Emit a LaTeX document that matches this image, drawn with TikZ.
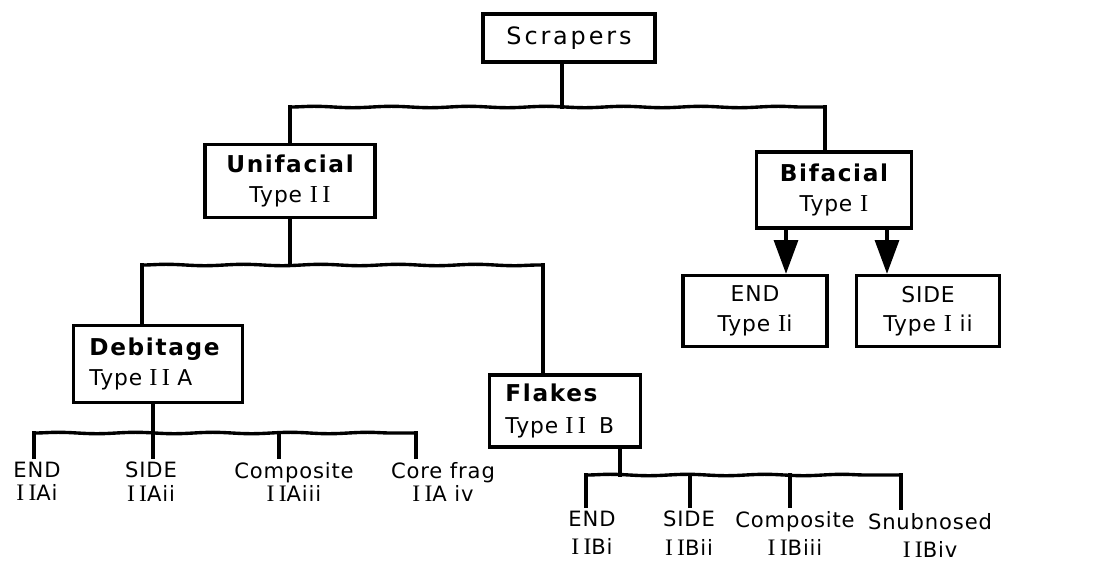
\documentclass[tikz,border=0pt]{standalone}
\usepackage{fontspec}
\setmainfont{DejaVu Sans}[LetterSpace=4, BoldFeatures={LetterSpace=7}]
\newfontfamily\romfont{Liberation Serif}[Scale=1.12, LetterSpace=18]
\newcommand\rmn[1]{{\romfont #1}}
\newcommand\hdtext[1]{{\fontsize{16.5}{21}\selectfont\bfseries #1}}
\usetikzlibrary{arrows.meta,decorations.pathmorphing}
\begin{document}
\begin{tikzpicture}[x=0.025cm,y=-0.025cm,
  box/.style={draw, line width=2.4pt, inner sep=0pt, align=center,
    font=\fontsize{15.5}{21}\selectfont},
  wh/.style 2 args={minimum width=#1*0.025cm, minimum height=#2*0.025cm},
  wire/.style={line width=2.4pt, line cap=rect},
  wavy/.style={wire, decorate, decoration={snake, amplitude=0.5pt, segment length=55pt}},
  tick/.style={wire, shorten >=5*0.025cm},
  arr/.style={line width=2.4pt, -{Triangle[length=24pt,width=17pt]}},
  lblA/.style={anchor=north, inner sep=0pt, align=center, font=\fontsize{15}{16.5}\selectfont},
  lblB/.style={anchor=north, inner sep=0pt, align=center, font=\fontsize{15}{20}\selectfont},
]
\useasboundingbox (0,0) rectangle (1120,562);

% boxes
\node[box, wh={172}{48}, font=\fontsize{17}{20}\selectfont\addfontfeature{LetterSpace=12}] (scr) at (569,38) {Scrapers};
\node[box, wh={170}{73}] (uni) at (290,181) {\hdtext{Unifacial}\\ Type \rmn{II}};
\node[box, wh={155}{76}] (bif) at (834,190) {\hdtext{Bifacial}\\ Type \rmn{I}};
\node[box, wh={144}{71}] (endI) at (755,311) {END\\ Type \rmn{I}i};
\node[box, wh={143}{71}] (sideI) at (928,311) {SIDE\\ Type \rmn{I} ii};
\node[box, minimum height=77*0.025cm, inner xsep=16*0.025cm, text width=3.425cm, align=left] (deb) at (158,364) {\hdtext{Debitage}\\ Type \rmn{II} A};
\node[box, minimum height=72*0.025cm, inner xsep=16*0.025cm, text width=2.975cm, align=left,
  font=\fontsize{15.5}{23}\selectfont] (flk) at (565,411) {\hdtext{Flakes}\\ Type \rmn{II}\hspace{0.6em}B};

% coordinates of the bars
\coordinate (s1) at (562,107);
\coordinate (b1L) at (290,107);
\coordinate (b1R) at (825,107);
\coordinate (b2L) at (142,265);
\coordinate (b2M) at (290,265);
\coordinate (b2R) at (543,265);
\coordinate (aL) at (786,0);
\coordinate (aR) at (887,0);

% first level
\draw[wire] (s1 |- scr.south) -- (s1);
\draw[wavy] (b1L) -- (b1R);
\draw[wire] (b1L) -- (b1L |- uni.north);
\draw[wire] (b1R) -- (b1R |- bif.north);

% bifacial arrows
\draw[arr] (aL |- bif.south) -- (aL |- endI.north);
\draw[arr] (aR |- bif.south) -- (aR |- sideI.north);

% second level
\draw[wire] (b2M |- uni.south) -- (b2M);
\draw[wavy] (b2L) -- (b2R);
\draw[wire] (b2L) -- (b2L |- deb.north);
\draw[wire] (b2R) -- (b2R |- flk.north);

% debitage children
\coordinate (d0) at (153,433);
\coordinate (d1) at (34,433);
\coordinate (d2) at (153,433);
\coordinate (d3) at (279,433);
\coordinate (d4) at (416,433);
\draw[wire] (d0 |- deb.south) -- (d0);
\draw[wavy] (d1) -- (d4);
\node[lblA] (dA1) at (37,462) {END\\ \rmn{II}Ai};
\node[lblA] (dA2) at (151,462) {SIDE\\ \rmn{II}Aii};
\node[lblA] (dA3) at (294,462) {Composite\\ \rmn{II}Aiii};
\node[lblA] (dA4) at (443,462) {Core frag\\ \rmn{II}A iv};
\draw[tick] (d1) -- (d1 |- dA1.north);
\draw[tick] (d2) -- (d2 |- dA2.north);
\draw[tick] (d3) -- (d3 |- dA3.north);
\draw[tick] (d4) -- (d4 |- dA4.north);

% flakes children
\coordinate (f0) at (620,475);
\coordinate (f1) at (586,475);
\coordinate (f2) at (690,475);
\coordinate (f3) at (790,475);
\coordinate (f4) at (901,475);
\draw[wire] (f0 |- flk.south) -- (f0);
\draw[wavy] (f1) -- (f4);
\node[lblB] (fB1) at (592,511) {END\\ \rmn{II}Bi};
\node[lblB] (fB2) at (689,511) {SIDE\\ \rmn{II}Bii};
\node[lblB] (fB3) at (795,511) {Composite\\ \rmn{II}Biii};
\node[lblB] (fB4) at (930,513) {Snubnosed\\ \rmn{II}Biv};
\draw[tick] (f1) -- (f1 |- fB1.north);
\draw[tick] (f2) -- (f2 |- fB2.north);
\draw[tick] (f3) -- (f3 |- fB3.north);
\draw[tick] (f4) -- (f4 |- fB4.north);
\end{tikzpicture}
\end{document}
